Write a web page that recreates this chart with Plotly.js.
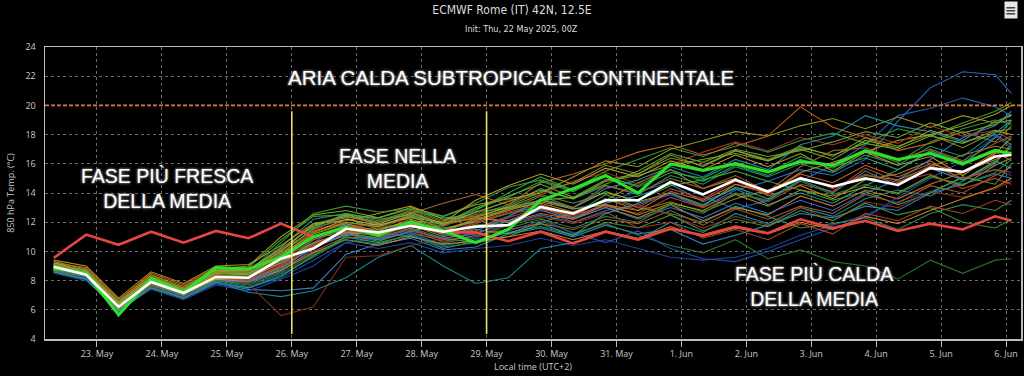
<!DOCTYPE html>
<html>
<head>
<meta charset="utf-8">
<script src="https://cdn.plot.ly/plotly-3.0.1.min.js"></script>
<style>html,body{margin:0;padding:0;background:#000;}#chart{width:1024px;height:376px;}</style>
</head>
<body>
<div id="chart"></div>
<script>
// time steps (local time, UTC+2)
const times = ["2025-05-22 08:00","2025-05-22 20:00","2025-05-23 08:00","2025-05-23 20:00","2025-05-24 08:00","2025-05-24 20:00",
"2025-05-25 08:00","2025-05-25 20:00","2025-05-26 08:00","2025-05-26 20:00","2025-05-27 08:00","2025-05-27 20:00",
"2025-05-28 08:00","2025-05-28 20:00","2025-05-29 08:00","2025-05-29 20:00","2025-05-30 08:00","2025-05-30 20:00",
"2025-05-31 08:00","2025-05-31 20:00","2025-06-01 08:00","2025-06-01 20:00","2025-06-02 08:00","2025-06-02 20:00",
"2025-06-03 08:00","2025-06-03 20:00","2025-06-04 08:00","2025-06-04 20:00","2025-06-05 08:00","2025-06-05 20:00","2025-06-06 02:00"];

// climatology (red)
const climate = [9.55,11.15,10.45,11.35,10.6,11.4,10.9,11.9,11.0,11.7,11.3,11.85,11.3,11.3,10.7,11.35,10.55,11.35,10.8,11.55,11.1,11.7,11.25,12.2,11.6,12.1,11.4,11.9,11.5,12.4,12.1];
// ensemble mean (white)
const ensMean = [8.95,8.4,6.2,7.9,7.15,8.25,8.2,9.5,10.2,11.55,11.3,11.75,11.35,11.7,11.8,13.05,12.6,13.5,13.5,14.75,13.9,14.9,14.1,15.0,14.45,15.0,14.55,15.7,15.45,16.5,16.6];
// control run (green)
const control = [8.85,8.5,5.65,8.15,7.2,8.9,8.8,9.6,11.0,11.65,11.1,12.0,11.4,10.6,11.5,13.5,14.3,15.2,14.0,16.0,15.55,16.0,15.45,16.15,15.9,16.9,16.3,16.7,16.0,16.9,16.7];

// ensemble members
const m01 = [8.8,8.3,6.1,7.7,6.9,8.0,7.8,8.6,10.2,11.2,10.9,11.5,10.8,11.0,11.9,12.5,12.0,12.8,13.2,13.9,13.0,14.2,14.8,15.6,15.2,16.3,18.9,21.2,22.3,22.1,20.8];
const m02 = [8.6,8.1,5.9,7.5,6.8,7.8,7.4,7.3,7.5,9.8,10.5,10.9,10.1,10.3,11.2,11.6,11.0,11.8,11.2,11.5,10.5,11.1,11.8,12.6,12.3,13.1,12.8,14.0,14.6,15.3,15.0];
const m03 = [8.9,8.5,6.3,8.0,7.0,8.1,8.0,9.3,10.6,11.9,11.3,11.0,10.5,11.4,12.3,13.6,12.9,13.4,14.1,14.7,13.8,12.9,13.5,14.8,15.9,17.3,19.3,19.8,20.5,19.9,19.3];
const m04 = [8.5,8.0,6.0,7.4,6.7,7.7,7.3,8.1,9.0,10.6,10.2,10.6,9.9,10.2,10.4,10.9,10.4,10.8,10.2,9.6,9.4,9.6,10.2,11.1,11.8,12.5,13.4,14.1,15.0,15.6,15.2];
const m05 = [9.0,8.6,6.5,8.1,7.3,8.3,8.5,9.8,11.6,12.2,11.8,12.4,11.6,12.0,12.6,13.1,12.3,13.3,13.8,14.6,13.4,14.3,13.2,14.0,13.3,14.5,15.6,16.8,15.9,17.8,18.9];
const m06 = [8.7,8.2,6.2,7.6,6.9,7.9,7.2,6.9,7.3,8.2,9.6,10.4,9.0,7.8,8.2,10.2,10.6,11.4,10.8,12.0,11.3,12.6,11.9,13.0,12.4,13.6,14.2,13.8,14.8,16.0,17.4];
const m07 = [9.1,8.7,6.4,8.2,7.4,8.6,8.7,10.3,12.2,12.6,12.1,12.8,12.3,12.5,13.2,14.3,13.6,14.5,13.9,15.2,14.6,15.8,15.1,16.0,15.4,16.6,15.9,17.2,16.5,18.1,19.0];
const m08 = [8.8,8.3,6.0,7.8,7.0,8.2,8.1,9.0,10.8,11.5,11.6,12.0,11.3,11.8,12.0,12.9,12.5,13.9,13.0,12.6,12.0,13.1,12.4,11.6,11.9,12.3,11.5,12.6,13.2,12.8,13.5];
const m09 = [9.2,8.6,6.6,8.3,7.5,8.7,8.9,10.8,12.4,12.5,12.3,12.9,12.1,12.8,14.0,15.1,14.2,15.5,16.3,17.1,16.5,17.4,16.8,17.6,18.1,17.4,18.4,17.9,18.8,19.6,20.2];
const m10 = [8.9,8.4,6.2,7.9,7.2,8.4,8.3,9.4,11.0,11.2,10.7,11.4,11.8,12.7,13.0,13.9,13.3,14.0,13.5,14.5,14.9,15.5,14.8,14.2,13.5,14.1,13.2,14.0,15.1,14.6,16.0];
const m11 = [8.6,8.1,5.8,7.6,6.8,8.0,7.6,8.4,9.6,10.9,11.0,11.6,10.6,10.9,11.8,12.3,11.2,11.9,11.1,10.4,9.9,10.8,9.5,10.1,9.3,9.0,8.1,9.4,8.5,9.4,9.5];
const m12 = [9.0,8.5,6.3,8.0,7.3,8.5,8.6,10.0,11.8,12.3,11.5,12.1,11.9,13.0,13.8,14.6,13.7,14.9,15.3,16.6,15.8,16.9,16.2,17.0,16.3,17.6,17.1,18.3,17.6,18.9,19.3];
const m13 = [9.3,8.8,6.7,8.4,7.6,8.8,9.0,11.0,12.5,12.8,12.3,13.0,12.4,13.2,13.6,14.0,15.1,16.2,15.8,17.0,17.6,18.2,17.9,18.6,19.1,18.4,19.2,18.5,19.3,18.8,19.0];
const m14 = [8.8,8.4,6.1,7.9,7.1,8.3,8.2,9.2,10.5,11.4,11.2,11.8,11.0,11.5,11.2,12.0,12.6,13.6,12.8,13.4,12.7,13.6,14.2,15.0,14.4,15.2,14.9,15.8,16.6,17.2,17.0];
const m15 = [9.4,9.0,6.8,8.6,7.8,9.0,9.1,10.4,11.9,12.1,12.6,13.1,12.2,12.4,13.0,13.5,13.0,14.1,13.4,14.0,13.1,14.6,14.0,15.4,16.1,16.8,17.6,18.0,18.6,19.4,20.0];
const m16 = [8.9,8.6,6.4,8.1,7.4,8.6,8.4,9.6,11.2,11.9,11.4,12.2,11.5,12.2,12.9,13.3,12.7,13.5,14.7,15.6,14.3,15.0,13.8,14.5,13.6,14.9,15.3,16.2,14.9,16.1,17.2];
const m17 = [9.1,8.7,6.5,8.3,7.5,8.7,8.8,10.1,11.4,12.0,11.7,12.5,11.8,12.3,12.1,13.0,12.2,13.0,12.3,13.2,12.1,13.0,12.5,13.8,13.1,14.2,13.6,14.6,15.4,16.3,16.8];
const m18 = [9.2,8.9,6.6,8.5,7.7,8.9,8.6,9.9,10.9,11.6,11.9,12.6,13.3,13.9,13.2,14.7,15.3,16.0,16.8,17.3,16.6,17.2,17.9,19.9,18.5,17.8,16.9,17.4,18.2,17.5,18.6];
const m19 = [8.7,8.3,6.0,7.7,7.0,8.1,7.9,8.8,10.0,11.0,10.8,11.3,10.7,11.1,11.5,11.9,11.5,12.2,11.9,12.8,11.8,12.9,12.2,13.1,12.6,13.9,13.3,14.5,14.0,15.2,15.8];
const m20 = [8.6,8.2,6.1,7.6,6.9,8.0,7.8,5.6,6.2,9.6,9.7,10.4,10.9,11.3,11.8,12.4,11.9,12.6,13.2,12.5,11.6,12.4,11.8,13.0,12.1,13.4,13.0,14.1,13.7,14.3,14.8];
const m21 = [8.9,8.4,6.2,7.9,7.1,8.3,8.3,9.6,11.5,12.0,11.6,12.3,11.7,12.6,13.5,13.9,14.8,15.4,14.6,15.9,16.8,17.5,16.9,17.8,17.3,18.0,17.4,18.6,17.9,18.3,17.6];
const m22 = [9.0,8.5,6.3,8.0,7.2,8.4,8.0,9.1,10.4,11.3,11.1,11.7,11.2,12.0,12.7,13.2,12.5,13.1,12.6,13.7,13.0,14.0,13.4,14.6,14.1,15.7,14.8,15.3,14.3,15.0,14.6];
const m23 = [8.7,8.2,6.0,7.5,6.8,7.8,7.5,8.2,9.4,10.6,10.9,11.3,10.4,10.8,11.4,12.1,11.3,10.6,11.4,10.2,9.5,9.3,10.0,10.8,11.6,12.3,13.7,15.0,16.2,17.9,17.1];
const m24 = [8.8,8.3,6.1,7.8,7.0,8.1,8.0,9.0,10.9,11.8,11.3,12.1,11.1,11.6,12.4,13.6,13.0,14.3,14.9,15.8,15.1,16.3,15.6,17.3,17.9,19.3,18.6,18.2,17.5,18.0,17.3];
const m25 = [9.1,8.6,6.5,8.2,7.4,8.6,8.6,10.6,12.6,13.1,12.7,12.9,12.4,13.3,14.4,14.9,14.2,15.1,14.5,15.6,14.8,15.9,15.2,16.3,15.7,16.9,16.1,17.5,18.4,19.0,18.7];
const m26 = [8.9,8.5,6.2,7.9,7.2,8.4,8.3,9.3,10.6,11.3,10.9,11.6,10.9,10.6,11.0,11.9,11.1,12.0,11.6,12.5,11.4,12.2,11.7,12.8,12.1,13.3,12.5,13.0,12.0,11.6,12.2];
const m27 = [9.2,8.7,6.5,8.3,7.5,8.7,8.7,10.2,11.7,12.5,12.0,12.7,11.9,12.7,13.4,14.2,13.6,14.8,15.2,15.9,16.3,16.7,16.2,17.1,16.6,17.4,17.0,17.9,17.4,18.3,18.0];
const m28 = [8.8,8.4,6.2,7.8,7.1,8.2,8.0,8.9,10.3,11.1,11.5,12.0,11.4,12.1,12.8,13.4,12.9,13.2,12.5,13.3,12.8,13.9,13.1,14.2,13.8,14.4,14.0,15.2,14.5,15.9,16.4];
const m29 = [9.0,8.6,6.4,8.1,7.3,8.5,8.5,9.7,11.3,12.2,11.8,12.3,12.0,13.5,14.5,15.3,14.6,15.7,15.1,16.2,15.6,16.6,15.8,16.7,15.5,16.8,15.9,16.5,15.2,16.7,17.8];
const m30 = [8.7,8.3,6.0,7.7,7.0,8.1,7.9,8.7,9.9,10.8,10.4,11.0,10.5,10.7,11.0,11.4,10.8,11.4,10.9,11.7,11.0,11.6,11.2,12.0,11.5,12.4,11.9,12.8,13.6,14.4,15.0];
const m31 = [9.1,8.7,6.6,8.3,7.5,8.6,8.6,9.9,11.5,12.4,12.0,12.8,12.0,12.4,12.8,13.8,13.0,14.5,14.0,15.0,14.3,15.2,14.1,15.8,16.9,17.1,16.3,17.0,16.2,17.4,17.9];
const m32 = [8.9,8.5,6.3,8.0,7.2,8.4,8.2,9.4,10.8,11.6,11.2,11.9,11.2,11.9,12.6,12.9,12.0,12.7,11.6,12.0,10.9,11.5,10.8,11.9,11.2,12.6,12.1,13.1,12.6,13.5,13.2];
const m33 = [9.0,8.5,6.3,8.0,7.3,8.5,8.4,9.8,11.6,12.6,12.2,12.5,11.8,12.9,13.7,14.8,14.1,15.2,14.4,15.4,15.0,16.1,15.4,16.5,15.8,16.4,15.6,16.9,16.1,17.0,16.6];
const m34 = [8.6,8.1,5.9,7.5,6.8,7.9,7.5,8.3,9.7,11.0,10.6,11.1,10.2,10.7,11.3,11.7,11.1,12.6,13.3,14.0,13.2,14.4,13.6,14.9,14.0,15.5,14.5,15.7,14.9,16.2,15.7];
const m35 = [8.8,8.3,6.2,7.7,7.0,8.0,7.9,8.8,10.3,11.2,10.8,11.4,10.9,11.2,12.1,12.8,12.2,13.0,12.2,13.0,12.3,13.3,12.6,13.5,12.8,14.0,14.9,16.3,17.8,18.6,19.6];
const m36 = [9.1,8.7,6.4,8.2,7.4,8.6,8.7,10.0,11.9,12.4,11.9,12.6,11.9,12.3,13.1,14.1,14.7,15.9,15.3,16.4,15.9,16.9,16.3,17.2,16.5,17.8,17.2,18.0,17.1,18.2,18.4];
const m37 = [8.9,8.5,6.3,8.0,7.2,8.4,8.2,9.2,10.6,11.3,11.2,11.9,11.3,12.3,12.0,12.6,12.2,13.2,12.8,14.1,13.5,14.6,14.0,15.3,14.7,15.9,15.1,16.0,15.4,16.8,16.2];
const m38 = [9.0,8.6,6.4,8.1,7.3,8.5,8.4,9.5,11.2,12.0,11.7,12.4,11.5,12.1,12.9,13.5,13.7,14.6,15.5,16.7,16.1,17.0,16.5,16.9,17.5,18.2,17.8,18.8,18.1,18.7,19.4];
const m39 = [8.8,8.4,6.2,7.8,7.1,8.2,8.0,9.0,10.4,11.5,11.0,11.5,10.8,11.6,12.3,13.0,12.4,13.6,13.0,14.3,13.6,14.8,13.9,15.1,14.3,15.3,14.7,15.9,15.0,15.6,15.4];
const m40 = [8.7,8.3,6.1,7.7,7.0,8.0,7.7,8.5,9.8,10.8,10.5,11.2,10.3,10.6,11.6,12.2,11.6,12.4,12.0,13.2,12.6,14.0,13.5,14.8,13.9,14.6,13.9,15.1,14.6,15.4,16.3];

const members = [m01,m02,m03,m04,m05,m06,m07,m08,m09,m10,m11,m12,m13,m14,m15,m16,m17,m18,m19,m20,
                 m21,m22,m23,m24,m25,m26,m27,m28,m29,m30,m31,m32,m33,m34,m35,m36,m37,m38,m39,m40];
const memberColors = ["#2f6fd0","#3a86c8","#2a64c0","#1c4aa8","#1fa3a3","#1b8f9e","#20a080","#2c9a60","#3aa83a","#45b03a",
                      "#2a7a30","#7ab030","#9aa020","#8c9628","#c09a20","#b88c1c","#d07a28","#c86a20","#b0602a","#8a3420",
                      "#a83028","#c0402c","#2850b8","#2296b0","#38a040","#4a9a3a","#88b030","#a0a030","#c8a028","#d88a30",
                      "#a06030","#b04830","#30b050","#28a0a0","#3a7ad8","#909c2c","#d07030","#6aa830","#c83a30","#2a8a40"];

const thresholdValue = 20;
const markerDates = ["2025-05-26 00:00","2025-05-29 00:00"];
const xRange = ["2025-05-22 04:47","2025-06-06 05:32"];

const traces = members.map((m,i)=>({
  x: times, y: m, type:'scatter', mode:'lines',
  line:{color: memberColors[i], width:1.1}, opacity:0.92, hoverinfo:'skip', showlegend:false
}));
traces.push({x: times, y: climate, type:'scatter', mode:'lines', line:{color:'#e8473f', width:2.6}, showlegend:false});
traces.push({x: times, y: control, type:'scatter', mode:'lines', line:{color:'#2fe02a', width:3}, showlegend:false});
traces.push({x: times, y: ensMean, type:'scatter', mode:'lines', line:{color:'#ffffff', width:2.6}, showlegend:false});

const shadowCss = '0px 0px 3px #9a9a9a, 0px 0px 2px #707070';
const bigFont = {family:'"Liberation Sans", Arial, sans-serif', size:19.5, color:'#ffffff', shadow:shadowCss};
const topFont = {family:'"Liberation Sans", Arial, sans-serif', size:20.5, color:'#ffffff', shadow:shadowCss};
const tickFont = {family:'"Open Sans", "DejaVu Sans", sans-serif', size:9, color:'#c8c8c8'};

const layout = {
  width:1024, height:376,
  paper_bgcolor:'#000', plot_bgcolor:'#000',
  margin:{l:45, r:3, t:47, b:37},
  showlegend:false,
  xaxis:{
    type:'date', range:xRange, tickformat:'%-d. %b', dtick:86400000, tick0:'2025-05-23 00:00',
    showgrid:true, gridcolor:'#6a6a6a', griddash:'3px,3px', gridwidth:1,
    ticks:'outside', ticklen:6, tickcolor:'#bbbbbb', tickwidth:1,
    showline:true, linecolor:'#bdbdbd', linewidth:1.5, mirror:true, zeroline:false,
    tickfont:tickFont,
    title:{text:'Local time (UTC+2)', font:{family:'"Open Sans", "DejaVu Sans", sans-serif', size:9, color:'#c8c8c8'}, standoff:4}
  },
  yaxis:{
    range:[4,24], dtick:2, tick0:4,
    showgrid:true, gridcolor:'#6a6a6a', griddash:'3px,3px', gridwidth:1,
    ticks:'', showline:true, linecolor:'#bdbdbd', linewidth:1.5, mirror:true, zeroline:false,
    tickfont:tickFont, ticklabelstandoff:6,
    title:{text:'850 hPa Temp. (°C)', font:{family:'"Open Sans", "DejaVu Sans", sans-serif', size:9, color:'#c8c8c8'}, standoff:9}
  },
  title:{text:'ECMWF Rome (IT) 42N, 12.5E', x:0.5, xanchor:'center', y:0.973, yanchor:'middle',
         font:{family:'"Liberation Sans Narrow", "DejaVu Sans Condensed", Arial, sans-serif', size:12, color:'#dddddd'}},
  shapes:[
    {type:'line', xref:'paper', x0:0, x1:1, yref:'y', y0:thresholdValue, y1:thresholdValue,
     line:{color:'#e07a3a', width:1.6, dash:'4px,2px'}},
    {type:'line', xref:'x', x0:markerDates[0], x1:markerDates[0], yref:'y', y0:4.35, y1:19.6,
     line:{color:'#e9e26a', width:1.6}},
    {type:'line', xref:'x', x0:markerDates[1], x1:markerDates[1], yref:'y', y0:4.35, y1:19.6,
     line:{color:'#e9e26a', width:1.6}}
  ],
  annotations:[
    {text:'Init: Thu, 22 May 2025, 00Z', xref:'paper', yref:'paper', x:0.4887, y:1.0, yshift:18, showarrow:false,
     xanchor:'center', yanchor:'middle',
     font:{family:'"Liberation Sans Narrow", "DejaVu Sans Condensed", Arial, sans-serif', size:9, color:'#dddddd'}},
    {text:'ARIA CALDA SUBTROPICALE CONTINENTALE', xref:'paper', yref:'paper', x:0.4775, y:0.897,
     showarrow:false, xanchor:'center', yanchor:'middle', font:topFont},
    {text:'FASE PIÙ FRESCA<br>DELLA MEDIA', xref:'paper', yref:'paper', x:0.125, y:0.517,
     showarrow:false, xanchor:'center', yanchor:'middle', align:'center', font:bigFont},
    {text:'FASE NELLA<br>MEDIA', xref:'paper', yref:'paper', x:0.3607, y:0.584,
     showarrow:false, xanchor:'center', yanchor:'middle', align:'center', font:bigFont},
    {text:'FASE PIÙ CALDA<br>DELLA MEDIA', xref:'paper', yref:'paper', x:0.788, y:0.18,
     showarrow:false, xanchor:'center', yanchor:'middle', align:'center', font:bigFont},
    {text:'<b>≡</b>', xref:'paper', yref:'paper', x:1.0, y:1.0, xshift:-3, yshift:37, showarrow:false,
     xanchor:'right', yanchor:'middle', bgcolor:'#e6e6e6', borderpad:0,
     font:{family:'"DejaVu Sans", sans-serif', size:14, color:'#444'}}
  ]
};

Plotly.newPlot('chart', traces, layout, {displayModeBar:false, staticPlot:true});
</script>
</body>
</html>
